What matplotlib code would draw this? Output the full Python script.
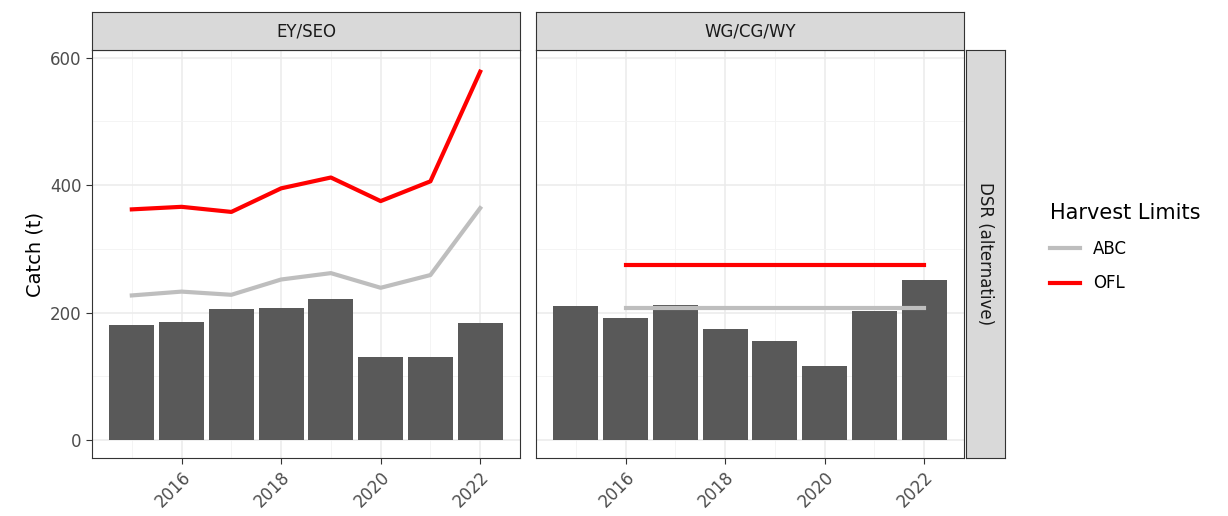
import numpy as np
import matplotlib.pyplot as plt
from matplotlib.patches import Rectangle
from matplotlib.lines import Line2D

years = [2015, 2016, 2017, 2018, 2019, 2020, 2021, 2022]
ey_catch = [181, 186, 205, 208, 222, 130, 131, 183]
ey_abc = [227, 233, 228, 252, 262, 239, 259, 364]
ey_ofl = [362, 366, 358, 395, 412, 375, 406, 578]
wg_catch = [211, 192, 212, 175, 156, 116, 203, 252]
wg_years_lim = [2016, 2022]
wg_abc = [208, 208]
wg_ofl = [275, 275]

W, H = 1228, 516
fig = plt.figure(figsize=(W / 100, H / 100), dpi=100)

def ax_at(x0, y0, x1, y1):
    return fig.add_axes([x0 / W, 1 - y1 / H, (x1 - x0) / W, (y1 - y0) / H])

panels = [("EY/SEO", 92, 520, ey_catch, years, ey_abc, ey_ofl),
          ("WG/CG/WY", 536, 964, wg_catch, wg_years_lim, wg_abc, wg_ofl)]
for i, (name, x0, x1, catch, ly, abc, ofl) in enumerate(panels):
    ax = ax_at(x0, 50, x1, 458)
    ax.set_xlim(2014.2, 2022.8)
    ax.set_ylim(-28, 612)
    ax.set_xticks([2016, 2018, 2020, 2022])
    ax.set_xticks([2015, 2017, 2019, 2021], minor=True)
    ax.set_yticks([0, 200, 400, 600])
    ax.set_yticks([100, 300, 500], minor=True)
    ax.grid(True, which="major", color="#ebebeb", lw=1.1)
    ax.grid(True, which="minor", color="#f3f3f3", lw=0.6)
    ax.set_axisbelow(True)
    ax.bar(years, catch, width=0.9, color="#595959", zorder=2)
    ax.plot(ly, abc, color="#bebebe", lw=3, zorder=3)
    ax.plot(ly, ofl, color="#ff0000", lw=3, zorder=3)
    for s in ax.spines.values():
        s.set_color("#333333")
    ax.tick_params(which="minor", length=0)
    ax.tick_params(which="major", color="#333333", labelcolor="#4d4d4d", labelsize=12, length=4)
    plt.setp(ax.get_xticklabels(), rotation=45, ha="right", rotation_mode="anchor")
    if i == 0:
        ax.set_ylabel("Catch (t)", fontsize=14)
    else:
        ax.set_yticklabels([])
        ax.tick_params(axis="y", length=0)
    st = ax_at(x0, 12, x1, 50)
    st.set_xticks([]); st.set_yticks([])
    st.set_facecolor("#d9d9d9")
    for s in st.spines.values():
        s.set_color("#333333")
    st.text(0.5, 0.5, name, ha="center", va="center", fontsize=12, color="#1a1a1a", transform=st.transAxes)

rs = ax_at(966, 50, 1005, 458)
rs.set_xticks([]); rs.set_yticks([])
rs.set_facecolor("#d9d9d9")
for s in rs.spines.values():
    s.set_color("#333333")
rs.text(0.5, 0.5, "DSR (alternative)", rotation=-90, ha="center", va="center", fontsize=12,
        color="#1a1a1a", transform=rs.transAxes)

handles = [Line2D([], [], color="#bebebe", lw=3), Line2D([], [], color="#ff0000", lw=3)]
fig.legend(handles, ["ABC", "OFL"], title="Harvest Limits", loc="upper left",
           bbox_to_anchor=(1035 / W, 1 - 188 / H), frameon=False, fontsize=12,
           title_fontsize=15, handlelength=1.8, labelspacing=1.0, alignment="left")

fig.savefig("out.png", dpi=100)
